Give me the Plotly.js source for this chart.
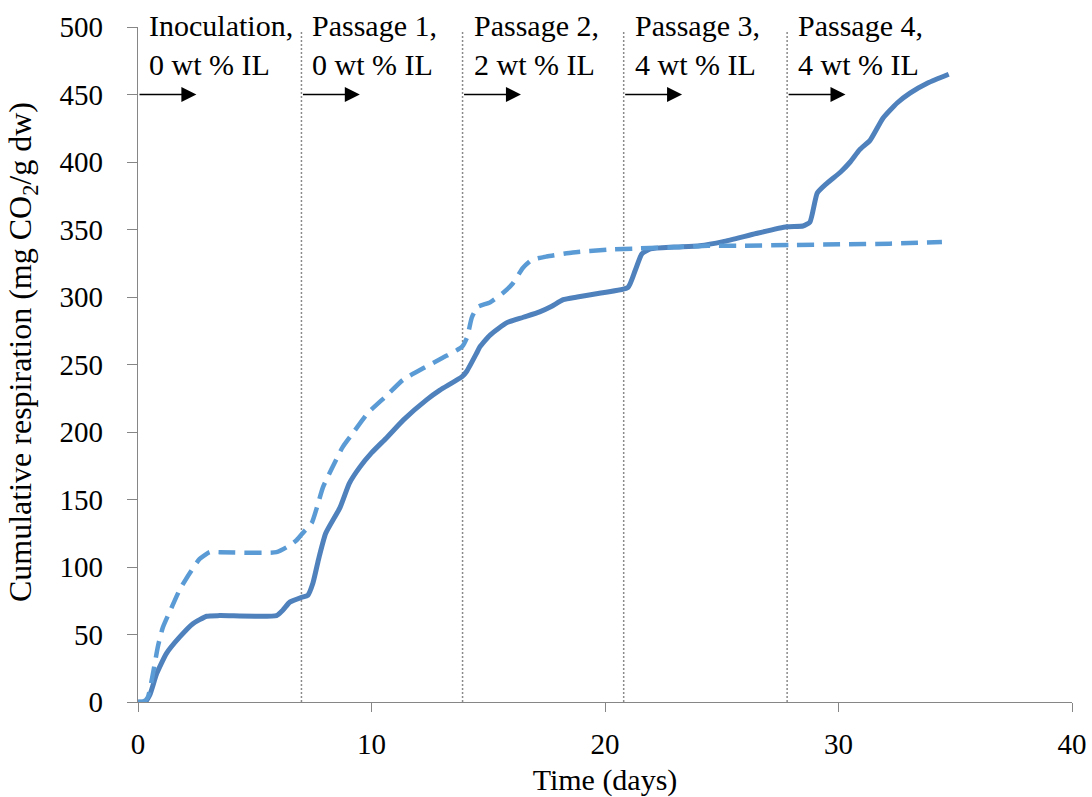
<!DOCTYPE html>
<html>
<head>
<meta charset="utf-8">
<script src="https://cdn.plot.ly/plotly-3.0.1.min.js"></script>
<style>
html,body{margin:0;padding:0;background:#fff;}
#chart{width:1092px;height:797px;}
</style>
</head>
<body>
<div id="chart"></div>
<script>
// Solid series (cumulative respiration, mg CO2 / g dw)
const timeSolid = [0, 0.3, 0.5, 0.8, 1.22, 1.78, 2.35, 2.94, 3.5, 5.93, 6.2, 6.5, 7.0, 7.27, 7.49, 7.75, 8.04, 8.65, 9.05, 9.5, 10.0, 10.66, 11.37, 12.37, 12.93, 13.88, 14.08, 14.49, 14.64, 15.09, 15.8, 16.5, 17.2, 17.7, 18.21, 18.81, 19.82, 20.98, 21.3, 21.58, 21.94, 22.94, 24.05, 25.06, 26.47, 27.78, 28.48, 28.78, 29.09, 29.49, 30.09, 30.5, 30.9, 31.35, 31.91, 32.51, 33.06, 33.82, 34.72];
const respSolid = [0, 0, 5, 21, 36, 48, 58, 63.5, 64, 64, 68, 74, 77.5, 79, 88, 107, 125, 144, 162, 174, 184.5, 196, 209, 224, 231, 241, 245, 258, 263, 272, 281, 285, 289, 293, 298, 300, 303, 307, 320, 332, 335.6, 337, 338, 341, 347, 352, 352.6, 355.6, 377, 384, 392.6, 400, 409, 416, 432.6, 443.7, 451, 458.5, 465];

// Dashed series
const timeDashed = [0, 0.25, 0.42, 0.64, 0.85, 1.06, 1.44, 1.78, 2.2, 2.64, 3.07, 3.5, 5.93, 6.5, 6.8, 7.1, 7.44, 7.66, 7.92, 8.3, 8.77, 9.28, 9.84, 10.65, 11.34, 12.19, 13.05, 13.87, 14.09, 14.3, 14.55, 15.07, 15.63, 16.05, 16.48, 16.86, 17.5, 18.62, 20.08, 21.49, 23.2, 24.4, 25.78, 27.92, 30.06, 32.2, 34.43];
const respDashed = [0, 0.5, 3.5, 21, 41, 55, 70, 83, 95, 106, 111, 111, 111, 116, 120, 126, 132.6, 144, 159, 173, 189, 201, 214, 227, 238.5, 247, 255, 263, 270, 285, 292.6, 296, 303, 310, 321.5, 327.4, 330, 333, 335, 336, 337, 338, 338, 338.5, 339, 339.5, 340.7];

// Passage start days and labels
const passageDays = [0, 7, 13.9, 20.8, 27.8];
const passageLabels = ["Inoculation,<br>0 wt % IL", "Passage 1,<br>0 wt % IL", "Passage 2,<br>2 wt % IL", "Passage 3,<br>4 wt % IL", "Passage 4,<br>4 wt % IL"];
const arrowLength = 2.5;   // days
const arrowLevel = 450;    // mg CO2/g dw
const labelLevel = 487;

const xTicks = [0, 10, 20, 30, 40];
const yTicks = [0, 50, 100, 150, 200, 250, 300, 350, 400, 450, 500];
const xTitle = "Time (days)";
const yTitle = "Cumulative respiration (mg CO<sub>2</sub>/g dw)";

const FONT = "'Liberation Serif', 'Times New Roman', serif";
const AXIS_GRAY = "#868686";

const traces = [
  {x: timeSolid, y: respSolid, type: "scatter", mode: "lines", name: "Series 1",
   line: {color: "#4F81BD", width: 5, shape: "spline", smoothing: 0.5}},
  {x: timeDashed, y: respDashed, type: "scatter", mode: "lines", name: "Series 2",
   line: {color: "#5B9BD5", width: 4.5, dash: "17px,9px", shape: "spline", smoothing: 0.5}}
];

const shapes = passageDays.slice(1).map(d => ({
  type: "line", xref: "x", yref: "y", x0: d, x1: d, y0: 0, y1: 497,
  line: {color: "#8a8a8a", width: 1.5, dash: "2px,2px"}, layer: "below"
}));

const annotations = [];
passageDays.forEach((d, i) => {
  annotations.push({
    x: d, y: labelLevel, xref: "x", yref: "y", text: passageLabels[i],
    showarrow: false, xanchor: "left", yanchor: "middle", align: "left", xshift: 9,
    font: {family: FONT, size: 30, color: "#000"}
  });
  annotations.push({
    x: d + arrowLength, y: arrowLevel, xref: "x", yref: "y",
    ax: d, ay: arrowLevel, axref: "x", ayref: "y", text: "",
    showarrow: true, arrowhead: 2, arrowsize: 2, arrowwidth: 1.5, arrowcolor: "#000", standoff: 0
  });
});
// y-axis title drawn as rotated annotation for exact placement
annotations.push({
  xref: "paper", yref: "paper", x: -0.1242, y: 0.5185, xanchor: "center", yanchor: "middle",
  text: yTitle, textangle: -90, showarrow: false,
  font: {family: FONT, size: 32, color: "#000"}
});

const layout = {
  width: 1092, height: 797,
  margin: {l: 138, r: 20, t: 27, b: 95, pad: 0},
  paper_bgcolor: "#fff", plot_bgcolor: "#fff",
  showlegend: false,
  font: {family: FONT, size: 29, color: "#000"},
  xaxis: {
    range: [0, 40], tickvals: xTicks, ticktext: xTicks.map(String),
    ticks: "outside", ticklen: 9, tickwidth: 1, tickcolor: AXIS_GRAY,
    showline: true, linecolor: AXIS_GRAY, linewidth: 1.3,
    showgrid: false, zeroline: false, fixedrange: true,
    tickfont: {family: FONT, size: 29, color: "#000"},
    ticklabelstandoff: 7,
    title: {text: xTitle, font: {family: FONT, size: 30, color: "#000"}, standoff: 17}
  },
  yaxis: {
    range: [0, 500], tickvals: yTicks, ticktext: yTicks.map(String),
    ticks: "outside", ticklen: 10, tickwidth: 1, tickcolor: AXIS_GRAY,
    showline: true, linecolor: AXIS_GRAY, linewidth: 1.3,
    showgrid: false, zeroline: false, fixedrange: true,
    tickfont: {family: FONT, size: 29, color: "#000"},
    ticklabelstandoff: 18
  },
  shapes: shapes,
  annotations: annotations
};

Plotly.newPlot("chart", traces, layout, {staticPlot: true, displayModeBar: false});
</script>
</body>
</html>
